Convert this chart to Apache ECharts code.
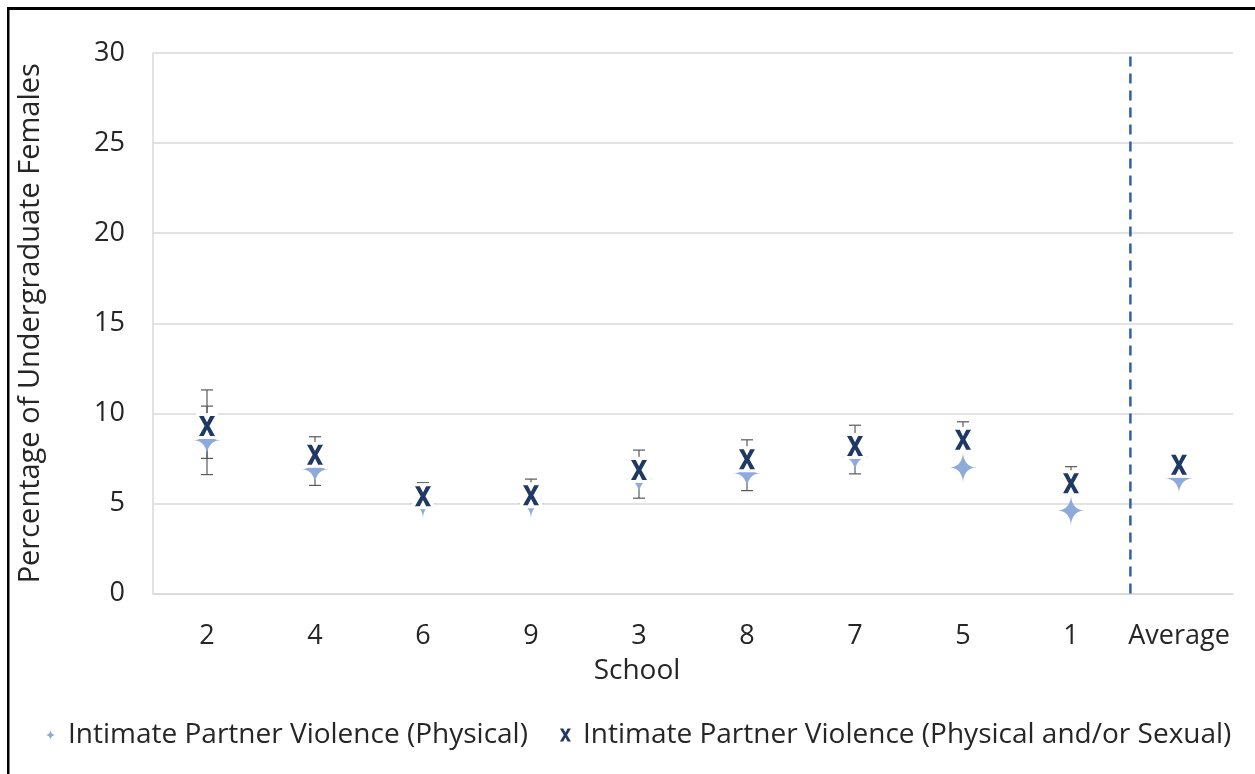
<!DOCTYPE html>
<html>
<head>
<meta charset="utf-8">
<script src="https://cdn.jsdelivr.net/npm/echarts@6/dist/echarts.min.js"></script>
<style>
html,body{margin:0;padding:0;background:#fff;}
#chart{width:1255px;height:774px;}
</style>
</head>
<body>
<div id="chart"></div>
<script>
// ---- data ----
const categories = ['2', '4', '6', '9', '3', '8', '7', '5', '1', 'Average'];
const physicalName = 'Intimate Partner Violence (Physical)';
const sexualName = 'Intimate Partner Violence (Physical and/or Sexual)';
const physical = [8.5, 6.9, 5.0, 5.0, 6.36, 6.68, 7.57, 7.0, 4.6, 6.38];
const physicalErrUp = [1.9, 0.9, 0, 0, 1.07, 0.97, 0.93, 0, 0, 0];
const physicalErrDown = [1.9, 0.9, 0, 0, 1.07, 0.97, 0.93, 0, 0, 0];
const sexual = [9.3, 7.7, 5.4, 5.45, 6.86, 7.45, 8.19, 8.53, 6.12, 7.14];
const sexualErrUp = [2.0, 1.0, 0.75, 0.9, 1.1, 1.08, 1.15, 1.0, 0.92, 0];
const sexualErrDown = [1.8, 0, 0, 0, 0, 0, 0, 0, 0, 0];
const yTicks = [0, 5, 10, 15, 20, 25, 30];
const dividerAt = 9.05;   // position of the dashed divider, in category units
const xTitle = 'School';
const yTitle = 'Percentage of Undergraduate Females';

// ---- styles ----
const FONT = 'Open Sans';
const TXT = '#262626';
const STAR_COLOR = '#8eaadb';
const X_COLOR = '#1f3864';
const ERR_COLOR = '#595959';
const STAR_PATH = 'path://M50,0 C50,25 65,50 100,50 C65,50 50,75 50,100 C50,75 35,50 0,50 C35,50 50,25 50,0 Z';
const X_PATH_DATA = 'M0,0 L30,0 L50,38 L70,0 L100,0 L65,60 L100,120 L70,120 L50,82 L30,120 L0,120 L35,60 Z';

const chart = echarts.init(document.getElementById('chart'));

function errRender(params, api) {
  const i = api.value(0), v = api.value(1), up = api.value(2), dn = api.value(3);
  const c = api.coord([i, v]);
  const cw = 6;
  const st = {stroke: ERR_COLOR, lineWidth: 1.2};
  const kids = [];
  if (up > 0) {
    const t = api.coord([i, v + up]);
    kids.push({type: 'line', shape: {x1: c[0], y1: c[1], x2: t[0], y2: t[1]}, style: st});
    kids.push({type: 'line', shape: {x1: t[0] - cw, y1: t[1], x2: t[0] + cw, y2: t[1]}, style: st});
  }
  if (dn > 0) {
    const b = api.coord([i, v - dn]);
    kids.push({type: 'line', shape: {x1: c[0], y1: c[1], x2: b[0], y2: b[1]}, style: st});
    kids.push({type: 'line', shape: {x1: b[0] - cw, y1: b[1], x2: b[0] + cw, y2: b[1]}, style: st});
  }
  return {type: 'group', children: kids};
}

function xRender(params, api) {
  const p = api.coord([api.value(0), api.value(1)]);
  return {type: 'group', children: [
    {type: 'rect', shape: {x: p[0] - 11, y: p[1] - 13, width: 22, height: 26}, style: {fill: '#fff'}},
    {type: 'path', shape: {pathData: X_PATH_DATA, x: p[0] - 8, y: p[1] - 10, width: 16, height: 20, layout: 'cover'},
      style: {fill: X_COLOR}}
  ]};
}

const option = {
  backgroundColor: '#fff',
  animation: false,
  textStyle: {fontFamily: FONT},
  graphic: [
    {type: 'rect', shape: {x: 7, y: 7, width: 1255, height: 3}, style: {fill: '#000'}},
    {type: 'rect', shape: {x: 7, y: 7, width: 2.5, height: 780}, style: {fill: '#000'}}
  ],
  grid: {left: 153, right: 22, top: 53, bottom: 180.5},
  legend: {
    bottom: 20, left: 40, itemGap: 32, itemWidth: 11, itemHeight: 15,
    textStyle: {fontFamily: FONT, fontSize: 28, color: TXT, padding: [0, 0, 0, 7]},
    data: [
      {name: physicalName, icon: STAR_PATH, itemStyle: {color: STAR_COLOR}},
      {name: sexualName, icon: 'path://' + X_PATH_DATA, itemStyle: {color: X_COLOR}}
    ]
  },
  xAxis: [{
    type: 'category', data: categories,
    name: xTitle, nameLocation: 'middle', nameGap: 64,
    nameTextStyle: {fontFamily: FONT, fontSize: 28, color: TXT, padding: [0, 112, 0, 0]},
    axisLine: {lineStyle: {color: '#d9d9d9', width: 1.5}},
    axisTick: {show: false},
    axisLabel: {fontFamily: FONT, fontSize: 27, color: TXT, margin: 29, interval: 0},
    splitLine: {show: false}
  }, {
    type: 'value', min: 0, max: categories.length, show: false
  }],
  yAxis: {
    type: 'value', min: yTicks[0], max: yTicks[yTicks.length - 1], interval: yTicks[1] - yTicks[0],
    name: yTitle, nameLocation: 'middle', nameGap: 108, nameRotate: 90,
    nameTextStyle: {fontFamily: FONT, fontSize: 29, color: TXT},
    axisLine: {show: true, lineStyle: {color: '#d9d9d9', width: 1.5}},
    axisTick: {show: false},
    axisLabel: {fontFamily: FONT, fontSize: 27, color: TXT, margin: 28},
    splitLine: {lineStyle: {color: '#d9d9d9', width: 1.5}}
  },
  series: [
    {
      type: 'line', xAxisIndex: 1, data: [[dividerAt, yTicks[0]], [dividerAt, yTicks[yTicks.length - 1]]],
      symbol: 'none', silent: true, z: 1,
      lineStyle: {color: '#2f5fad', width: 2.5, type: [10, 7]}
    },
    {
      type: 'custom', name: physicalName + ' err', renderItem: errRender, z: 2,
      encode: {x: 0, y: 1},
      data: physical.map((v, i) => [i, v, physicalErrUp[i], physicalErrDown[i]])
    },
    {
      type: 'custom', name: sexualName + ' err', renderItem: errRender, z: 2,
      encode: {x: 0, y: 1},
      data: sexual.map((v, i) => [i, v, sexualErrUp[i], sexualErrDown[i]])
    },
    {
      type: 'scatter', name: physicalName, symbol: STAR_PATH, symbolSize: [28, 31], z: 3,
      itemStyle: {color: STAR_COLOR, opacity: 1},
      data: physical.map((v, i) => [i, v])
    },
    {
      type: 'custom', name: sexualName, renderItem: xRender, z: 4,
      itemStyle: {color: X_COLOR},
      encode: {x: 0, y: 1},
      data: sexual.map((v, i) => [i, v])
    }
  ]
};
chart.setOption(option);
</script>
</body>
</html>
